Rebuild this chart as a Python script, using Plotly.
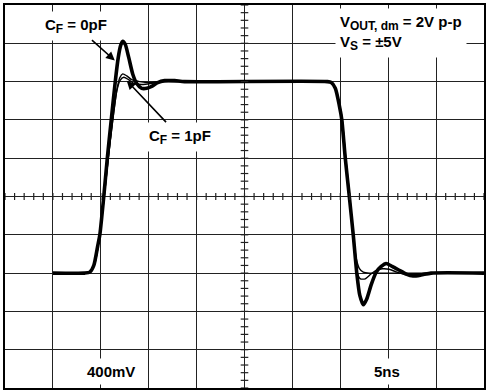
import plotly.graph_objects as go

# ---- data (time in ns, voltage in V) ----
t_cf0 = [5.0, 8.3, 8.85, 9.27, 9.69, 9.9, 10.31, 10.68, 11.09, 11.51, 11.82, 12.08, 12.29,
         12.55, 12.92, 13.33, 13.75, 14.27, 14.79, 15.31, 15.94, 16.67, 17.7, 18.75,
         33.65, 34.06, 34.48, 34.9, 35.16, 35.52, 35.94, 36.35, 36.72, 37.03, 37.4, 37.76,
         38.23, 38.75, 39.27, 39.79, 40.42, 41.15, 41.88, 42.6, 43.44, 44.48, 50.0]
v_cf0 = [-0.80, -0.80, -0.79, -0.72, -0.51, -0.40, 0.0, 0.40, 0.80, 1.20, 1.45, 1.58, 1.62,
         1.59, 1.45, 1.28, 1.18, 1.13, 1.13, 1.15, 1.19, 1.21, 1.21, 1.20,
         1.20, 1.19, 1.13, 0.95, 0.80, 0.40, 0.0, -0.40, -0.80, -1.03, -1.13, -1.07,
         -0.92, -0.79, -0.73, -0.70, -0.73, -0.77, -0.81, -0.83, -0.82, -0.80, -0.80]

t_cf1 = [5.0, 8.4, 8.96, 9.38, 9.9, 10.36, 10.78, 11.25, 11.67, 11.98, 12.29, 12.71, 13.23,
         14.06, 15.1, 16.15, 17.7, 33.65, 34.17, 34.58, 35.0, 35.21, 35.57, 35.99, 36.35,
         36.67, 36.98, 37.4, 38.02, 39.0, 50.0]
v_cf1 = [-0.80, -0.80, -0.78, -0.69, -0.40, 0.0, 0.40, 0.80, 1.11, 1.24, 1.28, 1.26, 1.22,
         1.20, 1.19, 1.20, 1.20, 1.20, 1.18, 1.11, 0.92, 0.80, 0.40, 0.0, -0.40,
         -0.65, -0.75, -0.79, -0.80, -0.80, -0.80]

t_mid = [5.0, 8.4, 8.96, 9.38, 9.9, 10.36, 10.78, 11.25, 11.67, 12.0, 12.4, 12.9, 13.5,
         14.3, 15.2, 16.3, 17.5, 33.65, 34.12, 34.53, 34.95, 35.2, 35.55, 35.97, 36.35,
         36.72, 37.1, 37.6, 38.2, 38.8, 39.4, 40.1, 40.9, 41.8, 42.8, 44.0, 50.0]
v_mid = [-0.80, -0.80, -0.78, -0.70, -0.40, 0.0, 0.40, 0.80, 1.10, 1.21, 1.245, 1.22, 1.18,
         1.17, 1.18, 1.20, 1.20, 1.20, 1.18, 1.12, 0.94, 0.80, 0.40, 0.0, -0.40,
         -0.78, -0.86, -0.86, -0.81, -0.77, -0.755, -0.76, -0.79, -0.815, -0.81, -0.80, -0.80]

x_range = [0, 50]
y_range = [-2, 2]
x_div = 5
y_div = 0.4

fig = go.Figure()
fig.add_trace(go.Scatter(x=t_cf1, y=v_cf1, mode="lines",
                         line=dict(color="black", width=1.4, shape="spline", smoothing=0.6)))
fig.add_trace(go.Scatter(x=t_mid, y=v_mid, mode="lines",
                         line=dict(color="black", width=1.4, shape="spline", smoothing=0.6)))
fig.add_trace(go.Scatter(x=t_cf0, y=v_cf0, mode="lines",
                         line=dict(color="black", width=3.6, shape="spline", smoothing=0.6)))

# center-axis minor ticks
shapes = []
xc = (x_range[0] + x_range[1]) / 2
yc = (y_range[0] + y_range[1]) / 2
n = 0
while n <= 50:
    tx = x_range[0] + n * x_div / 5
    shapes.append(dict(type="line", xref="x", yref="y", x0=tx, x1=tx,
                       ysizemode="pixel", yanchor=yc, y0=-3.5, y1=3.5,
                       line=dict(color="#222", width=1.2)))
    ty = y_range[0] + n * y_div / 5
    shapes.append(dict(type="line", xref="x", yref="y", y0=ty, y1=ty,
                       xsizemode="pixel", xanchor=xc, x0=-3.8, x1=3.8,
                       line=dict(color="#222", width=1.2)))
    n += 1


def sub(s):
    return '<sub><span style="font-size:12px">' + s + '</span></sub>'


font = dict(family="Liberation Sans, Arial, sans-serif", size=15, color="black")
annotations = [
    dict(x=11.46, y=1.42, xref="x", yref="y", text="<b>C" + sub("F") + " = 0pF</b>",
         showarrow=True, ax=-39, ay=-35, arrowhead=2, arrowsize=1.1, arrowwidth=1.6,
         arrowcolor="black", bgcolor="white", borderpad=4, font=font),
    dict(x=12.71, y=1.21, xref="x", yref="y", text="<b>C" + sub("F") + " = 1pF</b>",
         showarrow=True, ax=53, ay=56, arrowhead=2, arrowsize=1.1, arrowwidth=1.6,
         arrowcolor="black", bgcolor="white", borderpad=4, font=font),
    dict(x=0.827, y=0.927, xref="paper", yref="paper", xanchor="center", yanchor="middle",
         text="<b>V" + sub("OUT, dm") + " = 2V p-p<br>V" + sub("S") + " = ±5V</b>",
         showarrow=False, align="left", bgcolor="white", borderpad=4, font=font),
    dict(x=0.221, y=0.042, xref="paper", yref="paper", xanchor="center", yanchor="middle",
         text="<b>400mV</b>", showarrow=False, bgcolor="white", borderpad=4, font=font),
    dict(x=0.797, y=0.042, xref="paper", yref="paper", xanchor="center", yanchor="middle",
         text="<b>5ns</b>", showarrow=False, bgcolor="white", borderpad=4, font=font),
]

axis_common = dict(showgrid=True, gridcolor="#222", gridwidth=1.4, zeroline=False,
                   showticklabels=False, ticks="", showline=True, linecolor="black",
                   linewidth=2, mirror=True)
fig.update_layout(
    width=493, height=392,
    margin=dict(l=5, r=9, t=5, b=4),
    paper_bgcolor="white", plot_bgcolor="white",
    showlegend=False,
    xaxis=dict(range=x_range, dtick=x_div, tick0=0, **axis_common),
    yaxis=dict(range=y_range, dtick=y_div, tick0=0, **axis_common),
    shapes=shapes,
    annotations=annotations,
)
fig.write_html("out.html")
